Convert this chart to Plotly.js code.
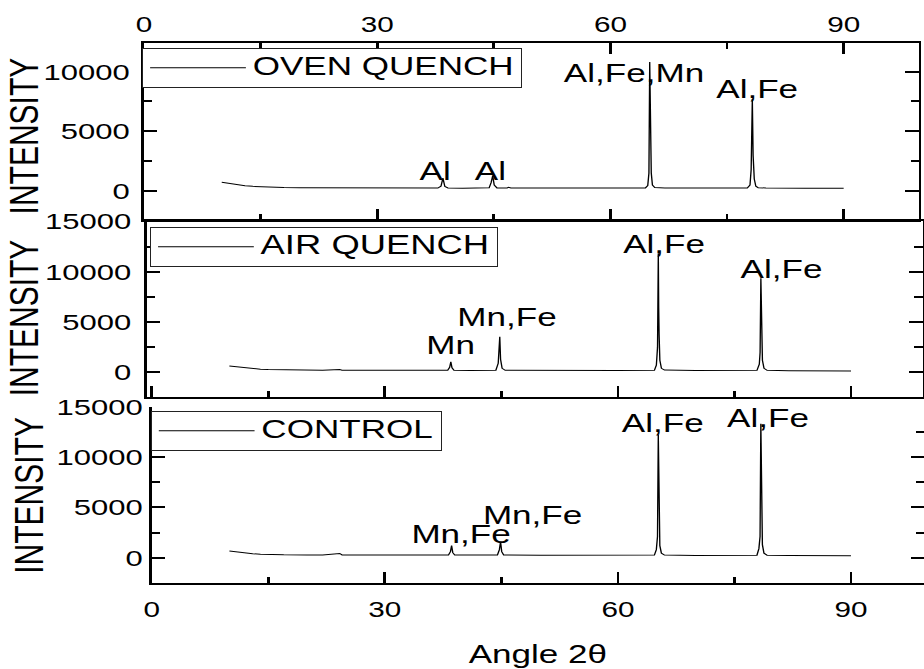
<!DOCTYPE html>
<html>
<head>
<meta charset="utf-8">
<script src="https://cdn.plot.ly/plotly-3.0.1.min.js"></script>
<style>
html, body { margin: 0; padding: 0; overflow: hidden; background: #fff; }
#chart { width: 685px; height: 669px; transform: scaleX(1.348905); transform-origin: 0 0; }
</style>
</head>
<body>
<div id="chart"></div>
<script>
// ---------------- data ----------------
const seriesNames = ['OVEN QUENCH', 'AIR QUENCH', 'CONTROL'];
const yTitle = 'INTENSITY';
const xTitle = 'Angle 2θ';

const ovenAngle = [10, 11, 12, 13, 14, 15, 16, 18, 20, 22, 24, 24.3, 26, 28, 30, 32, 34, 36, 37.8, 38.2, 38.45, 38.7, 39.1, 41, 43, 44.4, 44.65, 44.85, 45.05, 45.4, 46.7, 46.9, 47.2, 50, 55, 60, 63, 64.5, 64.8, 64.95, 65.05, 65.1, 65.15, 65.25, 65.4, 65.7, 67, 70, 75, 77.6, 77.95, 78.1, 78.25, 78.3, 78.35, 78.5, 78.7, 79, 80, 85, 90];
const ovenIntensity = [730, 620, 520, 440, 390, 350, 320, 290, 275, 265, 300, 260, 255, 250, 245, 245, 240, 240, 245, 400, 1080, 380, 250, 240, 240, 270, 700, 1280, 500, 260, 250, 310, 245, 240, 235, 235, 240, 260, 450, 1500, 10800, 5800, 4000, 1500, 500, 290, 250, 240, 235, 250, 500, 1800, 7700, 4100, 3000, 1000, 400, 280, 245, 235, 230];

const airAngle = [10, 11, 12, 13, 14, 15, 17, 20, 22, 24.2, 24.5, 27, 30, 33, 36, 38.1, 38.35, 38.5, 38.65, 38.9, 41, 44.3, 44.6, 44.7, 44.8, 44.9, 45.1, 45.5, 50, 55, 60, 64.7, 64.95, 65.1, 65.2, 65.25, 65.3, 65.4, 65.6, 66, 70, 75, 77.9, 78.2, 78.3, 78.4, 78.45, 78.5, 78.6, 78.8, 79.2, 82, 86, 90];
const airIntensity = [630, 540, 450, 360, 300, 270, 240, 220, 210, 280, 205, 200, 195, 195, 190, 210, 500, 1050, 450, 210, 190, 210, 900, 1900, 3540, 1300, 400, 200, 180, 175, 170, 200, 700, 2500, 11830, 6400, 3800, 1200, 400, 220, 170, 165, 200, 800, 2000, 9345, 4900, 3000, 1200, 400, 200, 160, 150, 140];

const controlAngle = [10, 11, 12, 13, 14, 15, 17, 20, 22, 24.2, 24.5, 27, 30, 33, 36, 38.2, 38.45, 38.6, 38.75, 39, 41, 44.5, 44.75, 44.9, 45.05, 45.3, 50, 55, 60, 64.7, 64.95, 65.1, 65.2, 65.25, 65.3, 65.4, 65.6, 66, 70, 75, 77.9, 78.15, 78.3, 78.4, 78.45, 78.5, 78.6, 78.8, 79.2, 82, 86, 90];
const controlIntensity = [670, 560, 460, 390, 340, 310, 290, 280, 275, 420, 275, 270, 268, 265, 262, 280, 600, 1200, 500, 270, 260, 280, 800, 1590, 600, 280, 250, 240, 235, 260, 800, 2100, 12190, 6060, 3500, 1200, 450, 260, 230, 220, 250, 900, 2100, 13300, 6560, 3500, 1300, 450, 250, 215, 205, 200];

const xTicks = [0, 30, 60, 90];
const yTicksTop = [0, 5000, 10000];
const yTicksLower = [0, 5000, 10000, 15000];

const ovenPeakLabels = ['Al', 'Al', 'Al,Fe,Mn', 'Al,Fe'];
const airPeakLabels = ['Mn', 'Mn,Fe', 'Al,Fe', 'Al,Fe'];
const controlPeakLabels = ['Mn,Fe', 'Mn,Fe', 'Al,Fe', 'Al,Fe'];

// ---------------- label anchors ----------------
const ovenLabelAt = [[37.4, 1700], [44.6, 1700], [63.0, 9900], [78.85, 8550]];
const airLabelAt = [[38.5, 2700], [45.7, 5500], [65.9, 12750], [81.1, 10250]];
const controlLabelAt = [[39.9, 2350], [49.1, 4250], [65.8, 13350], [79.4, 13850]];
const yTitleAt = [[0.0262, 0.7975], [0.0268, 0.5247], [0.0310, 0.2593]];

// ---------------- styling ----------------
const FONT = '"Liberation Sans", Arial, sans-serif';
const axisBase = {
  showgrid: false, zeroline: false, showline: true, linecolor: '#000', linewidth: 2,
  ticks: 'inside', tickcolor: '#000', tickwidth: 2, color: '#000', automargin: false,
  tickfont: { family: FONT, size: 22, color: '#000' }
};
const yTickFont = { family: FONT, size: 23, color: '#000' };
const xMinor = { ticks: 'inside', ticklen: 6, dtick: 15, tick0: 0, tickcolor: '#000', tickwidth: 2 };
const yMinor = { ticks: 'inside', ticklen: 6, dtick: 2500, tick0: 0, tickcolor: '#000', tickwidth: 2 };

const traceStyle = { mode: 'lines', line: { color: '#000', width: 1 }, hoverinfo: 'skip' };
const legendTextSize = [26, 27, 26];
const legendName = (i) => '<span style="font-size:' + legendTextSize[i] + 'px">' + seriesNames[i] + '</span>';

const data = [
  Object.assign({ x: ovenAngle, y: ovenIntensity, name: legendName(0), xaxis: 'x', yaxis: 'y', legend: 'legend' }, traceStyle),
  Object.assign({ x: airAngle, y: airIntensity, name: legendName(1), xaxis: 'x2', yaxis: 'y2', legend: 'legend2' }, traceStyle),
  Object.assign({ x: controlAngle, y: controlIntensity, name: legendName(2), xaxis: 'x3', yaxis: 'y3', legend: 'legend3' }, traceStyle)
];

function labels(texts, at, xref, yref) {
  return texts.map((t, i) => ({
    text: t, x: at[i][0], y: at[i][1], xref: xref, yref: yref, showarrow: false,
    xanchor: 'center', yanchor: 'middle', font: { family: FONT, size: 26, color: '#000' }
  }));
}
const yTitles = yTitleAt.map((p) => ({
  text: yTitle, x: p[0], y: p[1], xref: 'paper', yref: 'paper', showarrow: false, textangle: -90,
  xanchor: 'center', yanchor: 'middle', font: { family: FONT, size: 30, color: '#000' }
}));

const legendBase = {
  bgcolor: '#fff', bordercolor: '#222', borderwidth: 1, xanchor: 'left', yanchor: 'top',
  xref: 'paper', yref: 'paper', itemwidth: 71, itemclick: false, itemdoubleclick: false,
  font: { family: FONT, size: 19, color: '#000' }
};

const layout = {
  width: 685, height: 669, autosize: false,
  margin: { l: 0, r: 0, t: 0, b: 0, pad: 0 },
  paper_bgcolor: '#fff', plot_bgcolor: '#fff',
  font: { family: FONT, color: '#000' },
  showlegend: true,
  xaxis: Object.assign({}, axisBase, {
    domain: [0.15584, 0.99426], range: [0, 99.65], anchor: 'y', side: 'top', mirror: 'ticks',
    tickmode: 'array', tickvals: xTicks, ticktext: xTicks.map(String), ticklen: 11, minor: xMinor,
    ticklabelstandoff: 3.5
  }),
  yaxis: Object.assign({}, axisBase, {
    domain: [0.67115, 0.93572], range: [-2430, 12400], anchor: 'x', mirror: 'ticks',
    tickmode: 'array', tickvals: yTicksTop, ticktext: yTicksTop.map(String), ticklen: 10, minor: yMinor,
    tickfont: yTickFont, ticklabelstandoff: 4
  }),
  xaxis2: Object.assign({}, axisBase, {
    domain: [0.15909, 0.99838], range: [-0.6, 99.2], anchor: 'y2', side: 'bottom', mirror: true,
    tickmode: 'array', tickvals: xTicks, showticklabels: false, ticklen: 11, minor: xMinor
  }),
  yaxis2: Object.assign({}, axisBase, {
    domain: [0.40703, 0.66906], range: [-2425, 15000], anchor: 'x2', mirror: 'ticks',
    tickmode: 'array', tickvals: yTicksLower, ticktext: yTicksLower.map(String), ticklen: 10, minor: yMinor,
    tickfont: yTickFont, ticklabelstandoff: 5
  }),
  xaxis3: Object.assign({}, axisBase, {
    domain: [0.16418, 1.0], range: [0, 99.4], anchor: 'y3', side: 'bottom', mirror: false,
    tickmode: 'array', tickvals: xTicks, ticktext: xTicks.map(String), ticklen: 11, minor: xMinor,
    ticklabelstandoff: 6,
    title: { text: xTitle, font: { family: FONT, size: 26, color: '#000' } }
  }),
  yaxis3: Object.assign({}, axisBase, {
    domain: [0.12900, 0.39208], range: [-2483, 15000], anchor: 'x3', mirror: 'ticks',
    tickmode: 'array', tickvals: yTicksLower, ticktext: yTicksLower.map(String), ticklen: 10, minor: yMinor,
    tickfont: yTickFont, ticklabelstandoff: 1.5
  }),
  legend: Object.assign({}, legendBase, { x: 0.1537, y: 1 - 48 / 669 }),
  legend2: Object.assign({}, legendBase, { x: 0.1623, y: 1 - 227 / 669 }),
  legend3: Object.assign({}, legendBase, { x: 0.1631, y: 1 - 411 / 669 }),
  annotations: [].concat(
    labels(ovenPeakLabels, ovenLabelAt, 'x', 'y'),
    labels(airPeakLabels, airLabelAt, 'x2', 'y2'),
    labels(controlPeakLabels, controlLabelAt, 'x3', 'y3'),
    yTitles
  )
};

Plotly.newPlot('chart', data, layout, { displayModeBar: false, staticPlot: true });
</script>
</body>
</html>
